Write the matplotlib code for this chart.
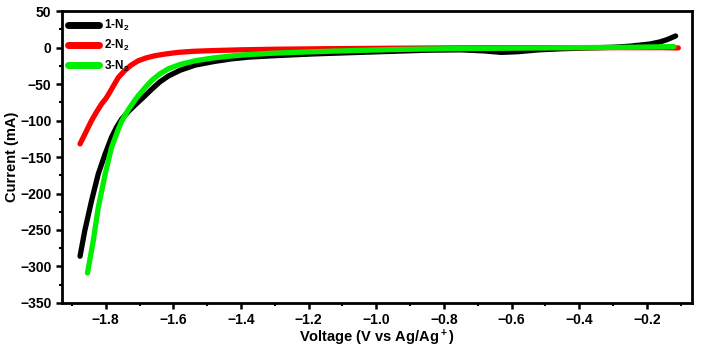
import numpy as np
import matplotlib
matplotlib.use("Agg")
import matplotlib.pyplot as plt
from matplotlib.ticker import MultipleLocator

plt.rcParams['font.family'] = ['Liberation Sans', 'DejaVu Sans']
plt.rcParams['font.weight'] = 'bold'
plt.rcParams['mathtext.fontset'] = 'custom'
plt.rcParams['mathtext.bf'] = 'Liberation Sans:bold'
plt.rcParams['mathtext.rm'] = 'Liberation Sans:bold'
plt.rcParams['mathtext.default'] = 'bf'

# 1-N2
v1 = [-1.876, -1.862, -1.842, -1.822, -1.802, -1.783, -1.768, -1.753, -1.734, -1.714,
      -1.684, -1.664, -1.64, -1.615, -1.58, -1.536, -1.48, -1.43, -1.378, -1.30,
      -1.18, -1.05, -0.95, -0.85, -0.75, -0.68, -0.63, -0.58, -0.52, -0.45,
      -0.38, -0.30, -0.25, -0.22, -0.19, -0.16, -0.14, -0.125, -0.115]
i1 = [-286, -251, -210, -173, -146, -123, -109, -98, -88, -79,
      -66, -57, -47, -39, -31, -24, -19, -15.5, -13, -11,
      -8.5, -6.5, -5, -3.5, -3, -4.5, -6.5, -5.5, -3, -1.5,
      -0.5, 0.5, 2, 3.5, 5, 8, 11, 14, 16]

# 2-N2
v2 = [-1.876, -1.86, -1.842, -1.827, -1.812, -1.80, -1.793, -1.783, -1.773, -1.763,
      -1.743, -1.725, -1.704, -1.68, -1.654, -1.62, -1.586, -1.54, -1.48, -1.40,
      -1.30, -1.15, -0.95, -0.75, -0.50, -0.30, -0.15, -0.107]
i2 = [-132, -117, -100, -88, -77, -70, -65, -57, -49, -41,
      -31, -24, -18, -14, -11, -8.5, -6.5, -5, -4, -3,
      -2.2, -1.5, -0.8, -0.3, 0, 0, 0, -0.4]

# 3-N2
v3 = [-1.854, -1.837, -1.822, -1.802, -1.783, -1.763, -1.753, -1.733, -1.714, -1.704,
      -1.684, -1.664, -1.64, -1.615, -1.58, -1.536, -1.48, -1.43, -1.378, -1.30,
      -1.18, -1.05, -0.935, -0.80, -0.60, -0.40, -0.25, -0.18, -0.14, -0.12]
i3 = [-309, -265, -219, -174, -137, -112, -101, -85, -72, -66,
      -55, -45, -36, -29, -23, -18, -14, -11.5, -9.5, -7.5,
      -5.5, -3.8, -2.5, -1.5, -0.7, 0, 0.5, 1, 1.3, 1.4]

fig = plt.figure(figsize=(7.02, 3.49), dpi=100)
ax = fig.add_axes([0.088, 0.132, 0.898, 0.836])

ax.plot(v1, i1, color='black', lw=3.8, label=r'1-N$_2$', solid_capstyle='round',
        solid_joinstyle='round')
ax.plot(v2, i2, color='#ff0000', lw=3.8, label=r'2-N$_2$', solid_capstyle='round',
        solid_joinstyle='round')
ax.plot(v3, i3, color='#00ee00', lw=3.8, label=r'3-N$_2$', solid_capstyle='round',
        solid_joinstyle='round')

ax.set_xlim(-1.93, -0.066)
ax.set_ylim(-350, 50)
ax.xaxis.set_major_locator(MultipleLocator(0.2))
ax.xaxis.set_minor_locator(MultipleLocator(0.1))
ax.yaxis.set_major_locator(MultipleLocator(50))
ax.yaxis.set_minor_locator(MultipleLocator(25))
ax.tick_params(which='major', direction='out', length=4, width=1.8, labelsize=10)
ax.tick_params(which='minor', direction='out', length=2.5, width=1.5)
for lab in ax.get_xticklabels() + ax.get_yticklabels():
    lab.set_fontweight('bold')
for s in ax.spines.values():
    s.set_linewidth(2)

ax.set_xlabel(r'Voltage (V vs Ag/Ag$^+$)', fontsize=10.5, fontweight='bold', labelpad=0)
ax.set_ylabel('Current (mA)', fontsize=10.5, fontweight='bold', labelpad=1)

leg = ax.legend(loc='upper left', frameon=False, handlelength=2.6,
                handletextpad=0.4, labelspacing=0.45, borderaxespad=0.15,
                bbox_to_anchor=(0.0, 1.0), prop={'weight': 'bold', 'size': 8.5})
for h in leg.get_lines():
    h.set_linewidth(5)

fig.savefig('out.png', dpi=100)
